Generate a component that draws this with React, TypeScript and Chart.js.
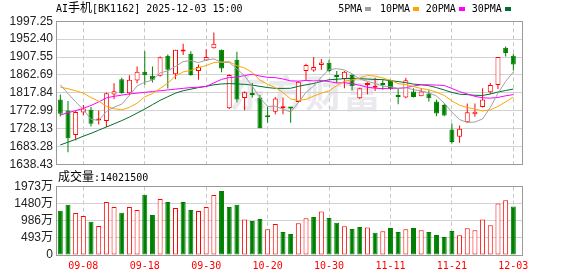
import React, { useEffect, useRef } from "react";
import { Chart, registerables } from "chart.js";

Chart.register(...registerables);

// ---------- data ----------
const dates = [
  "09-03","09-04","09-05","09-08","09-09","09-10","09-11","09-12","09-15","09-16",
  "09-17","09-18","09-19","09-22","09-23","09-24","09-25","09-26","09-29","09-30",
  "10-09","10-10","10-13","10-14","10-15","10-16","10-17","10-20","10-21","10-22",
  "10-23","10-24","10-27","10-28","10-29","10-30","10-31","11-03","11-04","11-05",
  "11-06","11-07","11-10","11-11","11-12","11-13","11-14","11-17","11-18","11-19",
  "11-20","11-21","11-24","11-25","11-26","11-27","11-28","12-01","12-02","12-03",
];
const tickDates = ["09-08", "09-18", "09-30", "10-20", "10-30", "11-11", "11-21", "12-03"];

const opens = [
  1801.1, 1773.6, 1711.9, 1768.6, 1775.3, 1748.5, 1746.9, 1813.7, 1852.1, 1817.0,
  1848.7, 1870.4, 1860.4, 1860.4, 1910.5, 1864.1, 1921.5, 1915.7, 1872.4, 1899.0,
  1929.8, 1925.7, 1779.2, 1900.7, 1805.0, 1815.0, 1805.8, 1759.2, 1770.0, 1779.2,
  1780.8, 1795.0, 1872.4, 1874.1, 1887.4, 1893.2, 1860.7, 1852.4, 1862.4, 1804.1,
  1837.4, 1830.8, 1839.9, 1849.1, 1810.0, 1805.8, 1820.8, 1809.1, 1815.8, 1795.8,
  1787.5, 1725.9, 1707.6, 1744.2, 1764.2, 1782.5, 1819.1, 1837.4, 1930.7, 1910.7,
];
const highs = [
  1813.7, 1797.0, 1772.0, 1787.0, 1782.0, 1773.6, 1818.7, 1842.0, 1855.4, 1862.1,
  1883.8, 1922.1, 1883.8, 1908.8, 1913.8, 1925.7, 1940.7, 1922.4, 1889.0, 1927.3,
  1969.0, 1926.5, 1864.1, 1920.7, 1820.8, 1842.4, 1812.5, 1782.5, 1807.5, 1805.8,
  1780.8, 1847.4, 1890.7, 1907.4, 1902.4, 1900.7, 1872.4, 1872.4, 1864.1, 1830.8,
  1844.1, 1855.7, 1850.7, 1850.8, 1829.1, 1855.7, 1829.1, 1829.1, 1824.1, 1800.8,
  1790.8, 1740.9, 1735.9, 1790.8, 1790.8, 1829.1, 1842.4, 1907.4, 1934.0, 1915.7,
];
const lows = [
  1758.6, 1668.5, 1698.5, 1761.9, 1733.5, 1738.6, 1731.9, 1802.0, 1815.3, 1812.0,
  1842.0, 1838.0, 1843.7, 1858.7, 1828.7, 1851.6, 1912.4, 1860.7, 1850.8, 1897.4,
  1929.0, 1869.1, 1777.5, 1794.1, 1774.2, 1805.8, 1729.2, 1742.5, 1764.2, 1764.2,
  1742.5, 1793.3, 1849.1, 1870.7, 1875.7, 1870.7, 1842.4, 1829.1, 1824.1, 1802.5,
  1814.1, 1822.5, 1825.8, 1824.1, 1789.1, 1804.1, 1805.8, 1809.1, 1795.8, 1759.2,
  1759.2, 1690.9, 1692.6, 1742.5, 1757.5, 1780.8, 1814.1, 1827.4, 1909.0, 1874.1,
];
const closes = [
  1765.3, 1703.5, 1769.4, 1778.6, 1740.2, 1750.5, 1817.0, 1822.0, 1817.0, 1850.4,
  1870.4, 1862.1, 1850.4, 1907.1, 1875.4, 1925.7, 1923.2, 1862.4, 1882.4, 1907.4,
  1940.7, 1879.1, 1862.4, 1800.8, 1819.1, 1812.5, 1729.2, 1756.7, 1803.3, 1780.8,
  1778.3, 1845.8, 1887.4, 1882.4, 1894.0, 1872.4, 1857.4, 1870.7, 1834.1, 1829.1,
  1840.8, 1832.4, 1837.4, 1826.6, 1807.5, 1849.1, 1807.5, 1820.8, 1804.1, 1765.8,
  1760.8, 1694.2, 1727.6, 1769.2, 1770.0, 1800.8, 1837.4, 1907.4, 1917.4, 1889.1,
];
// volume in 万
const volumes = [
  1280, 1453, 1212, 1126, 962, 837, 1530, 1385, 1222, 1385,
  1299, 1741, 1154, 1616, 1530, 1357, 1530, 1299, 1270, 1385,
  1732, 1847, 1385, 1453, 1029, 981, 1039, 741, 895, 664,
  606, 914, 1058, 1097, 1260, 1068, 933, 827, 750, 808,
  798, 645, 683, 779, 664, 741, 779, 712, 664, 577,
  519, 693, 568, 770, 712, 1029, 856, 1491, 1578, 1402,
];
const ma5 = [
  1838, 1816, 1795, 1776, 1751.4, 1748.6, 1771.2, 1781.8, 1789.4, 1811.4,
  1835.2, 1844.2, 1849.8, 1867.8, 1872.8, 1884.0, 1896.2, 1898.6, 1893.6, 1900.0,
  1903.0, 1894.2, 1894.2, 1878.0, 1860.4, 1834.8, 1804.8, 1783.8, 1784.2, 1776.6,
  1769.6, 1793.0, 1819.0, 1834.8, 1857.4, 1876.2, 1878.4, 1875.2, 1865.6, 1852.6,
  1846.4, 1841.4, 1834.6, 1833.2, 1829.0, 1830.6, 1825.8, 1822.6, 1818.0, 1809.6,
  1792.0, 1769.2, 1750.6, 1743.6, 1744.4, 1752.4, 1781.0, 1816.8, 1846.4, 1870.2,
];
const ma10 = [
  1832, 1828, 1823, 1817, 1806, 1797, 1784, 1778, 1775, 1781.4,
  1791.9, 1807.7, 1815.8, 1828.6, 1842.1, 1859.6, 1870.2, 1874.2, 1880.7, 1886.4,
  1893.5, 1895.2, 1896.4, 1885.8, 1880.2, 1868.9, 1849.5, 1839.0, 1831.1, 1818.5,
  1802.2, 1798.9, 1801.4, 1809.5, 1817.0, 1822.9, 1835.7, 1847.1, 1850.2, 1855.0,
  1861.3, 1859.9, 1854.9, 1849.4, 1840.8, 1838.5, 1833.6, 1828.6, 1825.6, 1819.3,
  1811.3, 1797.5, 1786.6, 1780.8, 1777.0, 1772.2, 1775.1, 1783.7, 1795.0, 1807.3,
];
const ma20 = [
  1762, 1768, 1773, 1779, 1786, 1795, 1805, 1809, 1812, 1815,
  1817, 1819, 1821, 1823, 1825, 1827, 1829, 1831, 1832, 1833.9,
  1842.7, 1851.5, 1856.1, 1857.2, 1861.2, 1864.3, 1859.9, 1856.6, 1855.9, 1852.5,
  1847.9, 1847.1, 1848.9, 1847.7, 1848.6, 1845.9, 1842.6, 1843.1, 1840.7, 1836.8,
  1831.8, 1829.4, 1828.2, 1829.5, 1828.9, 1830.7, 1834.7, 1837.9, 1837.9, 1837.2,
  1836.3, 1828.7, 1820.8, 1815.1, 1808.9, 1805.4, 1804.4, 1806.2, 1810.3, 1813.3,
];
const ma30 = [
  1687, 1694, 1701, 1709, 1716, 1724, 1732, 1740, 1748, 1757,
  1767, 1777, 1788, 1799, 1808, 1817, 1823, 1827, 1831, 1834,
  1838, 1840, 1841, 1840, 1839, 1837, 1834, 1831, 1829, 1828.8,
  1829.2, 1834.0, 1837.9, 1841.3, 1846.4, 1850.5, 1851.8, 1853.4, 1854.0, 1853.3,
  1852.3, 1851.3, 1850.9, 1848.2, 1846.0, 1843.4, 1839.6, 1838.2, 1835.6, 1830.9,
  1824.9, 1818.8, 1814.3, 1813.2, 1811.6, 1811.2, 1814.8, 1819.8, 1823.6, 1827.2,
];
const priceTicks = [1638.43, 1683.28, 1728.13, 1772.99, 1817.84, 1862.69, 1907.55, 1952.4, 1997.25];
const priceTickLabels = ["1638.43", "1683.28", "1728.13", "1772.99", "1817.84", "1862.69", "1907.55", "1952.40", "1997.25"];
const volTicks = [0, 493, 986, 1480, 1973];
const volTickLabels = ["0", "493万", "986万", "1480万", "1973万"];
const titleText = "AI手机[BK1162] 2025-12-03 15:00";
const volLabelText = "成交量:14021500";
const maNames = ["5PMA", "10PMA", "20PMA", "30PMA"];
const watermarkText = "东方财富";

// ---------- styles ----------
const RED = "#ff0000";
const GREEN = "#008000";
const MA_COLORS = ["#a0a0a0", "#ffa500", "#ff00ff", "#006e2e"];
const FRAME = "#9a9a9a";
const HGRID = "#d2d2d2";
const VGRID = "#c8c8c8";
const MONO = "'DejaVu Sans Mono', monospace";
const CJK = "'Noto Sans CJK SC', sans-serif";
const AXIS_FONT = "'Liberation Sans', 'Noto Sans CJK SC', sans-serif";
const X_MIN = -0.43;
const X_MAX = 60.13;

const candleColor = (i: number) => (closes[i] >= opens[i] ? RED : GREEN);
const volColor = (i: number) =>
  i === 0 ? candleColor(0) : closes[i] >= closes[i - 1] ? RED : GREEN;

const framePlugin = {
  id: "frame",
  afterDraw(chart: any) {
    const { ctx, chartArea: a } = chart;
    ctx.save();
    ctx.strokeStyle = FRAME;
    ctx.lineWidth = 1;
    const x1 = Math.floor(a.left) - 0.5;
    const x2 = Math.floor(a.right) + 0.5;
    const y1 = Math.floor(a.top) + 0.5;
    const y2 = Math.floor(a.bottom) + 0.5;
    ctx.strokeRect(x1, y1, x2 - x1, y2 - y1);
    ctx.restore();
  },
};

const watermarkPlugin = {
  id: "watermark",
  beforeDraw(chart: any) {
    const { ctx } = chart;
    ctx.save();
    ctx.font = `bold 38px ${CJK}`;
    ctx.fillStyle = "#eaeaee";
    ctx.textBaseline = "middle";
    ctx.fillText(watermarkText, 229, 93);
    ctx.restore();
  },
};

const zeroPad = (s: any) => {
  s.paddingTop = 0;
  s.paddingBottom = 0;
  s.paddingLeft = 0;
  s.paddingRight = 0;
};

const xScale = (showLabels: boolean) => ({
  type: "linear",
  min: X_MIN,
  max: X_MAX,
  offset: false,
  afterBuildTicks: (s: any) => {
    s.ticks = tickDates.map((d) => ({ value: dates.indexOf(d) }));
  },
  ticks: {
    display: showLabels,
    autoSkip: false,
    maxRotation: 0,
    minRotation: 0,
    color: RED,
    padding: 5,
    font: { family: MONO, size: 10 },
    callback: (v: number) => dates[v],
  },
  grid: { color: VGRID, lineWidth: 1, drawTicks: false, offset: false },
  border: { display: false, dash: [4, 3] },
  afterFit: (s: any) => {
    s.height = showLabels ? 21 : 0;
    zeroPad(s);
  },
});

const yScale = (ticks: number[], labels: string[]) => ({
  type: "linear",
  position: "left",
  min: ticks[0],
  max: ticks[ticks.length - 1],
  afterBuildTicks: (s: any) => {
    s.ticks = ticks.map((v) => ({ value: v }));
  },
  ticks: {
    autoSkip: false,
    color: "#222",
    padding: 4,
    font: { family: AXIS_FONT, size: 12 },
    callback: (_v: any, i: number) => labels[i],
  },
  grid: { color: HGRID, lineWidth: 1, drawTicks: false },
  border: { display: false },
  afterFit: (s: any) => {
    s.width = 57;
    zeroPad(s);
  },
});

function MixedText({ text }: { text: string }) {
  const parts = text.split(/([\u4e00-\u9fff]+)/).filter((p) => p.length > 0);
  return (
    <>
      {parts.map((p, i) =>
        /[\u4e00-\u9fff]/.test(p) ? (
          <span key={i} style={{ fontFamily: CJK, fontSize: 12, lineHeight: "8px" }}>
            {p}
          </span>
        ) : (
          <span key={i}>{p}</span>
        )
      )}
    </>
  );
}

const textStyle: React.CSSProperties = {
  position: "absolute",
  fontFamily: MONO,
  fontSize: 10,
  lineHeight: "12px",
  color: "#000",
  whiteSpace: "pre",
};

const legendTextLeft = [338.3, 380, 425.7, 471.7];
const legendBoxLeft = [365, 413.3, 459.3, 505];

export default function App() {
  const priceRef = useRef<HTMLCanvasElement>(null);
  const volRef = useRef<HTMLCanvasElement>(null);

  useEffect(() => {
    const idx = closes.map((_, i) => i);
    const maSets = [ma5, ma10, ma20, ma30].map((arr, k) => ({
      type: "line",
      label: maNames[k],
      data: arr.map((v, i) => ({ x: i, y: v })),
      borderColor: MA_COLORS[k],
      borderWidth: 1,
      pointRadius: 0,
      tension: 0,
      order: 0,
    }));

    const priceChart = new Chart(priceRef.current as HTMLCanvasElement, {
      type: "bar",
      data: {
        datasets: [
          ...(maSets as any[]),
          {
            type: "bar",
            label: "body",
            data: idx.map((i) => ({
              x: i,
              y: [Math.min(opens[i], closes[i]), Math.max(opens[i], closes[i])],
            })),
            backgroundColor: idx.map((i) => (candleColor(i) === RED ? "#ffffff" : GREEN)),
            borderColor: idx.map((i) => candleColor(i)),
            borderWidth: 1,
            borderSkipped: false,
            barThickness: 5,
            minBarLength: 2,
            grouped: false,
            inflateAmount: 0,
            order: 1,
          },
          {
            type: "bar",
            label: "wick",
            data: idx.map((i) => ({ x: i, y: [lows[i], highs[i]] })),
            backgroundColor: idx.map((i) => candleColor(i)),
            borderWidth: 0,
            barThickness: 1,
            grouped: false,
            inflateAmount: 0,
            order: 2,
          },
        ],
      },
      options: {
        responsive: false,
        animation: false,
        devicePixelRatio: 1,
        events: [],
        layout: { autoPadding: false, padding: { left: 0, right: 56, top: 21.3, bottom: 5.7 } },
        plugins: { legend: { display: false }, tooltip: { enabled: false } },
        scales: {
          x: xScale(false) as any,
          y: yScale(priceTicks, priceTickLabels) as any,
        },
      },
      plugins: [watermarkPlugin, framePlugin],
    } as any);

    const volChart = new Chart(volRef.current as HTMLCanvasElement, {
      type: "bar",
      data: {
        datasets: [
          {
            label: "volume",
            data: idx.map((i) => ({ x: i, y: volumes[i] })),
            backgroundColor: idx.map((i) => (volColor(i) === RED ? "#ffffff" : GREEN)),
            borderColor: idx.map((i) => volColor(i)),
            borderWidth: 1,
            borderSkipped: false,
            barThickness: 5,
            grouped: false,
            inflateAmount: 0,
          },
        ],
      },
      options: {
        responsive: false,
        animation: false,
        devicePixelRatio: 1,
        events: [],
        layout: { autoPadding: false, padding: { left: 0, right: 56, top: 16.7, bottom: 0 } },
        plugins: { legend: { display: false }, tooltip: { enabled: false } },
        scales: {
          x: xScale(true) as any,
          y: yScale(volTicks, volTickLabels) as any,
        },
      },
      plugins: [framePlugin],
    } as any);

    return () => {
      priceChart.destroy();
      volChart.destroy();
    };
  }, []);

  return (
    <div
      style={{
        position: "fixed",
        left: 0,
        top: 0,
        width: 578,
        height: 276,
        background: "#fff",
        overflow: "hidden",
      }}
    >
      <canvas
        ref={priceRef}
        width={578}
        height={170}
        style={{ position: "absolute", left: 0, top: 0, width: 578, height: 170 }}
      />
      <canvas
        ref={volRef}
        width={578}
        height={106}
        style={{ position: "absolute", left: 0, top: 170, width: 578, height: 106 }}
      />
      <div style={{ ...textStyle, left: 56, top: 2.8 }}>
        <MixedText text={titleText} />
      </div>
      {maNames.map((name, k) => (
        <React.Fragment key={name}>
          <div style={{ ...textStyle, left: legendTextLeft[k], top: 2.8 }}>{name}</div>
          <div
            style={{
              position: "absolute",
              left: legendBoxLeft[k],
              top: 7,
              width: 6,
              height: 4,
              background: MA_COLORS[k],
            }}
          />
        </React.Fragment>
      ))}
      <div style={{ ...textStyle, left: 58, top: 171.5 }}>
        <MixedText text={volLabelText} />
      </div>
    </div>
  );
}
